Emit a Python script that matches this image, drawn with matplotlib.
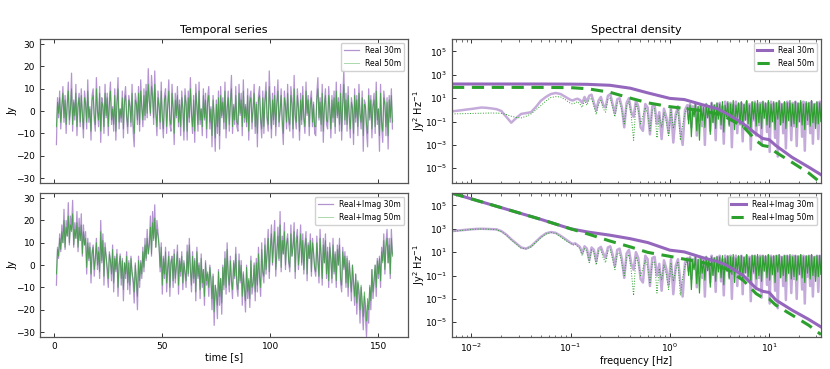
import numpy as np
import matplotlib
matplotlib.use("Agg")
import matplotlib.pyplot as plt
from matplotlib.ticker import NullLocator, LogLocator, NullFormatter

# ---------------- data: temporal series (Jy), two values per second, t = 1 ... 156.5 s ----------------
real30 = [
    -15, 6, -3, 9, -8, 2, 11, -5, 7, -10, 4, 13, -6, 1, 17, -9, 5, -4, 12, -11, 3, 8, -7, 10,
    -2, -12, 9, 4, -8, 14, -5, 2, -13, 7, 10, -4, -9, 15, 0, -7, 11, -14, 6, 3, -10, 12, -3, 8,
    -11, 5, 13, -6, 2, -9, 10, -13, 4, 15, -8, 1, -5, 9, -12, 6, 11, -3, -10, 7, 3, -7, 12, -9,
    -16, 8, 4, -6, 11, -9, 14, 2, -7, 10, -4, 12, -3, 19, 5, -2, 16, 8, -6, 18, -1, -11, 9, 3,
    -8, 13, -4, -12, 7, 10, -10, 3, 14, -6, -9, 12, 1, -15, 8, -3, 11, -7, 5, -11, 9, 2, -13, 10,
    4, -13, 9, -5, 15, -2, -10, 7, -14, 12, 3, -9, 13, -6, 1, -11, 10, -4, 8, -12, 6, 11, -8, 2,
    -16, 7, -4, -18, 5, -10, 9, -17, 11, -3, 6, -8, 13, -12, 2, 9, -9, 5, 16, -10, 3, -6, 11, -7,
    -9, 12, -2, 8, -11, 14, -5, 3, -7, 10, -13, 6, 9, -8, 1, 12, -10, 4, -16, 7, 11, -5, -12, 9,
    -10, 6, 13, -4, -9, 18, 2, -12, 8, -6, 11, -11, 4, 14, -7, 0, 10, -6, -15, 9, 3, -8, 12, -5,
    -9, 11, 5, -12, 16, -3, -8, 10, 2, -13, 8, -6, 11, -4, -10, 13, -2, 7, -11, 5, 9, -7, 4, -10,
    -11, 8, 15, -4, 6, -9, 12, -14, 3, 10, -6, -8, 11, 2, -12, 7, -5, 9, -10, 13, -3, 6, -9, 12,
    -13, 4, 19, -6, 8, -9, 11, -3, -12, 6, 2, -15, 10, -5, 7, -11, 12, -2, -8, 9, -18, 5, 3, -9,
    -16, 10, -4, 7, -12, 3, 8, -10, 13, -6, 1, -18, 12, -7, -14, 9, 4, -11, 6, -17, 7, -5, 10, -8]
real50 = [
    -7, 4, -1, 6, -5, 2, 8, -3, 5, -6, 3, 9, -4, 1, 10, -6, 4, -2, 8, -7, 2, 6, -5, 7,
    -1, -8, 6, 3, -5, 9, -3, 1, -9, 5, 7, -2, -6, 10, 0, -4, 8, -9, 4, 2, -7, 8, -2, 6,
    -7, 3, 9, -4, 1, -6, 7, -9, 3, 10, -5, 1, -3, 6, -8, 4, 7, -2, -7, 5, 2, -5, 8, -6,
    -10, 5, 3, -4, 8, -6, 9, 2, -4, 7, -2, 9, -1, 12, 4, -1, 11, 6, -3, 12, 0, -7, 6, 2,
    -5, 9, -2, -8, 5, 7, -7, 2, 9, -4, -6, 8, 1, -10, 5, -2, 7, -5, 3, -7, 6, 1, -9, 7,
    3, -9, 6, -3, 10, -1, -7, 5, -9, 8, 2, -6, 9, -4, 1, -7, 7, -3, 5, -8, 4, 7, -5, 1,
    -11, 5, -2, -12, 3, -7, 6, -11, 7, -2, 4, -5, 9, -8, 1, 6, -6, 3, 10, -7, 2, -4, 7, -5,
    -6, 8, -1, 5, -7, 9, -3, 2, -5, 7, -9, 4, 6, -5, 1, 8, -7, 3, -10, 5, 7, -3, -8, 6,
    -7, 4, 9, -3, -6, 11, 1, -8, 5, -4, 7, -7, 3, 9, -5, 0, 7, -4, -10, 6, 2, -5, 8, -3,
    -6, 7, 3, -8, 10, -2, -5, 7, 1, -9, 5, -4, 7, -3, -7, 9, -1, 5, -7, 3, 6, -5, 3, -7,
    -7, 5, 10, -3, 4, -6, 8, -9, 2, 7, -4, -5, 7, 1, -8, 5, -3, 6, -7, 9, -2, 4, -6, 8,
    -9, 3, 12, -4, 5, -6, 7, -2, -8, 4, 1, -10, 7, -3, 5, -7, 8, -1, -5, 6, -11, 3, 2, -6,
    -10, 7, -3, 5, -8, 2, 5, -7, 9, -4, 1, -11, 8, -5, -9, 6, 3, -7, 4, -11, 5, -3, 7, -5]
ri30 = [
    -9, 8, 3, 14, 6, 18, 10, 25, 7, 20, 13, 28, 9, 22, 16, 29, 8, 19, 12, 24, 6, 21, 11, 23,
    4, 18, 9, 15, -4, 12, 2, 10, -8, 6, 9, -5, 3, 12, -2, 8, -6, 20, 1, 14, -9, 10, 4, -3,
    -10, 6, 2, -7, 9, -12, 4, -3, 7, -14, 0, 5, -9, 3, -16, 1, -6, 6, -11, 2, -13, 4, -4, -8,
    -17, 1, -8, -20, 4, -10, 2, -6, 8, -3, 12, 2, 16, 5, 10, 22, 4, 24, 12, 27, 8, 20, 15, 9,
    -3, 10, -13, 4, -6, 8, -12, -2, 6, -14, 2, 4, -10, 7, -8, -1, 9, -13, 3, -5, 6, -11, 2, -4,
    -10, 9, -5, 12, -2, -12, 6, -8, 3, -16, 8, -6, 1, -15, 5, -10, -2, -18, 2, -9, -4, -14, 0, -7,
    -20, -4, -27, -9, -14, -24, -2, -18, -6, -22, 0, -11, 6, -13, 10, -5, -12, 4, -8, -15, 2, -6, 8, -10,
    -14, 5, -8, 2, -18, -3, -12, -21, 0, -15, -7, -19, 4, -13, -9, 1, -16, 3, -12, 8, -6, -14, 10, -4,
    -8, 12, -4, 6, 16, -6, 8, 18, 0, 11, 20, -5, 6, 17, 2, 24, -3, 13, 5, 19, -2, 10, 14, 1,
    -3, 18, 4, 9, 19, -6, 12, 16, -2, 7, 18, 0, 14, -4, 9, 15, -7, 10, 3, 14, -5, 12, 6, -2,
    -5, 13, 2, -8, 16, 4, -9, 12, 1, 14, -6, 8, -10, 10, 3, -8, 12, -4, 6, -10, 9, 0, 12, -8,
    -12, 8, -2, 6, -10, 4, -14, 2, -6, -16, 0, -9, -18, -4, -22, -8, -13, -26, -10, -20, -29, -14, -23, -32,
    -18, -26, -10, -20, -2, -15, -8, 0, -14, 3, -6, 4, -10, 8, 2, 14, -4, 10, 16, 1, 12, -6, 16, 5]
ri50 = [
    -4, 7, 4, 12, 7, 15, 10, 20, 8, 17, 13, 22, 10, 18, 15, 23, 9, 16, 12, 19, 8, 17, 11, 18,
    5, 15, 9, 12, -1, 10, 3, 8, -4, 5, 8, -2, 3, 10, 0, 6, -3, 15, 2, 11, -5, 8, 4, -1,
    -6, 5, 2, -4, 7, -8, 3, -2, 5, -10, 0, 4, -6, 2, -11, 1, -4, 4, -8, 1, -9, 3, -3, -6,
    -12, 0, -6, -14, 2, -7, 1, -4, 6, -1, 9, 3, 12, 5, 9, 17, 5, 19, 11, 21, 8, 16, 13, 8,
    -1, 8, -9, 3, -4, 6, -8, -1, 4, -10, 1, 3, -7, 5, -6, 0, 6, -9, 2, -3, 4, -8, 1, -3,
    -7, 6, -4, 9, -2, -9, 4, -6, 2, -12, 6, -5, 0, -11, 3, -8, -2, -14, 1, -7, -3, -10, -1, -6,
    -15, -5, -21, -9, -12, -18, -3, -14, -6, -17, -1, -9, 3, -10, 7, -4, -9, 2, -7, -11, 1, -5, 5, -8,
    -11, 2, -7, 0, -14, -4, -10, -16, -1, -12, -6, -15, 2, -10, -8, 0, -12, 1, -9, 5, -5, -10, 7, -3,
    -5, 9, -2, 5, 12, -3, 7, 14, 1, 9, 15, -2, 5, 13, 3, 18, -1, 11, 5, 15, 0, 9, 12, 2,
    -1, 14, 4, 8, 15, -3, 10, 13, 0, 6, 14, 1, 11, -2, 8, 12, -4, 9, 3, 11, -3, 10, 5, -1,
    -3, 10, 2, -5, 12, 4, -6, 9, 1, 11, -4, 6, -7, 8, 2, -6, 9, -3, 5, -7, 7, 0, 9, -6,
    -9, 6, -1, 4, -8, 3, -10, 1, -5, -12, 0, -7, -14, -4, -17, -7, -11, -20, -9, -16, -23, -12, -18, -25,
    -15, -20, -9, -16, -2, -12, -6, 0, -10, 2, -4, 3, -7, 6, 1, 11, -2, 8, 12, 1, 9, -4, 12, 4]
t_start, t_end = 1.0, 156.5

# ---------------- data: model spectral densities (log10 Jy^2/Hz) ----------------
model_f = [0.0064, 0.01, 0.02, 0.05, 0.1, 0.15, 0.25, 0.4, 0.6, 1.0, 1.4,
           2.1, 3.0, 3.7, 5.5, 7.4, 8.6, 10.0, 11.7, 17.0, 25.0, 33.3]
model_real30 = [2.21, 2.21, 2.21, 2.21, 2.2, 2.18, 2.1, 1.85, 1.45, 0.98, 0.88,
                0.45, 0.1, -0.3, -1.2, -2.06, -2.45, -2.55, -3.06, -4.06, -4.9, -5.55]
model_real50 = [1.92, 1.92, 1.92, 1.92, 1.9, 1.8, 1.5, 1.0, 0.6, 0.27, 0.12,
                -0.07, -0.35, -0.64, -1.44, -2.63, -3.05, -3.15, -3.63, -4.49, -5.4, -6.25]
model_ri30 = [6.05, 5.56, 4.81, 3.81, 3.0, 2.72, 2.45, 2.15, 1.82, 1.17, 1.02,
              0.55, 0.2, -0.1, -1.0, -2.1, -2.35, -2.45, -3.1, -3.96, -4.75, -5.4]
model_ri50 = [6.05, 5.56, 4.81, 3.81, 3.0, 2.55, 1.95, 1.45, 0.98, 0.64, 0.4,
              0.13, -0.2, -0.44, -1.42, -2.55, -2.9, -3.0, -3.54, -4.38, -5.25, -6.05]

# ---------------- data: periodograms (log10 Jy^2/Hz) ----------------
pg_real30 = [
    # 0.0064 - 0.1 Hz
    -0.13, -0.08, -0.03, 0.03, 0.08, 0.14, 0.2, 0.17, 0.12, 0.06, -0.1, -0.6,
    -1.1, -0.7, -0.35, -0.28, -0.2, 0.25, 0.78, 1.1, 1.35, 1.44, 1.35, 1.1,
    # 0.1 - 1.5 Hz
    0.85, 0.8, 0.9, 0.95, 0.85, 0.6, 1.1, 0.7, 1.2, 1.3, 0.6, -0.05, 0.8, 1.1, 0.4, 0.2,
    1.2, 1.35, 0.5, -0.3, 0.9, 1.0, 0.2, -1.5, 0.6, 1.0, -0.2, -0.6, 0.8, 0.3, -1.5, -1.8,
    0.5, 0.2, -2.1, 0.3, 0.4, -1.2, -0.2, -2.5, 0.1, -0.6, -2.0, 0.2, -2.8, -0.4, 0.3, -1.7,
    -3.0, 0.0,
    # 1.5 - 33 Hz
    0.4, -0.8, 0.5, -1.5, 0.3, -0.3, 0.6, -2.2, 0.2, -0.9, 0.5, -1.4, 0.4, -3.0, 0.5, -0.5, 0.3, -1.8, 0.6, -1.0,
    0.4, -2.6, 0.5, -0.4, 0.6, -1.6, 0.3, -2.9, 0.7, -0.7, 0.5, -1.2, 0.6, -3.2, 0.4, -0.6, 0.7, -2.0, 0.5, -1.1,
    0.6, -2.7, 0.4, -0.8, 0.7, -1.5, 0.5, -3.4, 0.6, -0.9, 0.7, -2.2, 0.5, -1.3, 0.6, -3.0, 0.7, -0.7, 0.5, -1.9,
    0.6, -3.6, 0.7, -1.0, 0.5, -2.4, 0.6, -4.0, 0.7, -1.2, 0.5, -2.0, 0.6, -3.3, 0.7, -0.9, 0.5, -2.6, 0.6, -1.4,
    0.7, -3.1, 0.5, -1.0, 0.6, -2.3, 0.7, -3.5, 0.5, -1.2, 0.6, -2.0, 0.7, -2.9, 0.5, -1.1, 0.6, -2.5, 0.7, -0.9]
pg_real50 = [
    -0.35, -0.34, -0.33, -0.32, -0.31, -0.3, -0.29, -0.28, -0.27, -0.28, -0.3, -0.4,
    -0.55, -0.65, -0.69, -0.55, -0.35, 0.0, 0.36, 0.75, 1.05, 1.13, 1.1, 0.85,
    0.55, 0.5, 0.6, 0.7, 0.5, 0.2, 0.8, 0.4, 0.9, 1.0, 0.3, -0.4, 0.5, 0.8, 0.1, -0.2,
    0.9, 1.0, 0.2, -0.6, 0.6, 0.7, -0.1, -1.2, 0.3, 0.7, -0.5, -2.6, 0.5, 0.0, -1.2, -0.5,
    0.2, -0.3, -1.8, 0.0, 0.1, -2.4, -0.5, -1.5, -0.2, -1.0, -2.2, 0.0, -1.6, -0.7, 0.1, -2.6,
    -1.3, -0.3,
    0.2, -1.2, 0.4, -2.3, 0.1, -0.6, 0.5, -1.8, 0.3, -2.6, 0.4, -0.9, 0.2, -1.5, 0.5, -0.7, 0.3, -2.1, 0.6, -1.1,
    0.4, -1.6, 0.6, -0.8, 0.5, -1.3, 0.7, -1.9, 0.4, -0.6, 0.7, -1.4, 0.5, -1.0, 0.8, -1.7, 0.4, -0.7, 0.6, -1.3,
    0.7, -1.5, 0.5, -0.9, 0.8, -1.2, 0.4, -1.8, 0.7, -0.8, 0.6, -1.4, 0.8, -1.1, 0.5, -1.6, 0.7, -0.7, 0.6, -1.3,
    0.8, -1.5, 0.5, -1.0, 0.7, -1.7, 0.6, -0.8, 0.8, -1.3, 0.5, -1.1, 0.7, -1.6, 0.6, -0.9, 0.8, -1.4, 0.5, -1.2,
    0.7, -1.5, 0.6, -1.0, 0.8, -1.3, 0.5, -1.7, 0.7, -0.9, 0.6, -1.4, 0.8, -1.1, 0.5, -1.6, 0.7, -1.2, 0.6, -1.0]
pg_ri30 = [
    2.8, 2.84, 2.88, 2.92, 2.96, 2.99, 3.0, 2.99, 2.97, 2.95, 2.8, 2.5,
    2.1, 1.75, 1.4, 1.3, 1.5, 1.9, 2.3, 2.6, 2.72, 2.65, 2.4, 2.1,
    1.8, 1.7, 1.75, 1.6, 1.45, 0.9, 1.5, 1.3, 0.3, 1.4, 1.2, 0.2, 1.3, 1.45, 0.9, 0.5,
    1.4, 1.5, 0.8, -0.2, 1.2, 1.3, 0.4, -1.2, 0.9, 1.2, 0.0, -0.5, 1.0, 0.5, -1.3, -1.6,
    0.7, 0.4, -1.9, 0.5, 0.6, -1.0, 0.0, -2.3, 0.3, -0.4, -1.8, 0.4, -2.6, -0.2, 0.4, -1.5,
    -2.8, 0.1,
    0.5, -0.6, 0.6, -1.3, 0.4, -0.2, 0.7, -2.0, 0.3, -0.8, 0.6, -1.2, 0.5, -2.8, 0.6, -0.4, 0.4, -1.6, 0.7, -0.9,
    0.5, -2.4, 0.6, -0.3, 0.7, -1.5, 0.4, -2.7, 0.7, -0.6, 0.6, -1.1, 0.7, -3.0, 0.5, -0.5, 0.7, -1.9, 0.6, -1.0,
    0.7, -2.6, 0.5, -0.7, 0.7, -1.4, 0.6, -3.2, 0.7, -0.8, 0.7, -2.1, 0.6, -1.2, 0.7, -2.9, 0.7, -0.6, 0.6, -1.8,
    0.7, -3.4, 0.7, -0.9, 0.6, -2.3, 0.7, -3.8, 0.7, -1.1, 0.6, -1.9, 0.7, -3.1, 0.7, -0.8, 0.6, -2.5, 0.7, -1.3,
    0.7, -3.0, 0.6, -0.9, 0.7, -2.2, 0.7, -3.4, 0.6, -1.1, 0.7, -1.9, 0.7, -2.8, 0.6, -1.0, 0.7, -2.4, 0.7, -0.8]
pg_ri50 = [
    2.78, 2.82, 2.86, 2.9, 2.94, 2.97, 2.98, 2.97, 2.95, 2.92, 2.75, 2.45,
    2.05, 1.7, 1.35, 1.28, 1.45, 1.85, 2.25, 2.55, 2.68, 2.6, 2.3, 2.0,
    1.75, 1.6, 1.7, 1.5, 1.3, 0.7, 1.3, 1.1, 0.1, 1.2, 1.0, -0.1, 1.1, 1.2, 0.5, 0.1,
    1.1, 1.2, 0.4, -0.5, 0.9, 0.9, 0.0, -1.0, 0.5, 0.8, -0.6, -2.7, 0.6, 0.1, -1.0, -0.4,
    0.3, -0.2, -1.7, 0.1, 0.2, -2.5, -0.4, -1.4, -0.1, -0.9, -2.2, 0.1, -1.5, -0.6, 0.2, -2.7,
    -1.2, -0.2,
    0.3, -1.0, 0.5, -2.2, 0.2, -0.5, 0.6, -1.7, 0.4, -2.5, 0.5, -0.8, 0.3, -1.4, 0.6, -0.6, 0.4, -2.0, 0.6, -1.0,
    0.5, -1.5, 0.6, -0.7, 0.6, -1.2, 0.7, -1.8, 0.5, -0.5, 0.7, -1.3, 0.6, -0.9, 0.8, -1.6, 0.5, -0.6, 0.7, -1.2,
    0.7, -1.4, 0.6, -0.8, 0.8, -1.1, 0.5, -1.7, 0.7, -0.7, 0.7, -1.3, 0.8, -1.0, 0.6, -1.5, 0.7, -0.6, 0.7, -1.2,
    0.8, -1.4, 0.6, -0.9, 0.7, -1.6, 0.7, -0.7, 0.8, -1.2, 0.6, -1.0, 0.7, -1.5, 0.7, -0.8, 0.8, -1.3, 0.6, -1.1,
    0.7, -1.4, 0.7, -0.9, 0.8, -1.2, 0.6, -1.6, 0.7, -0.8, 0.7, -1.3, 0.8, -1.0, 0.6, -1.5, 0.7, -1.1, 0.7, -0.9]

# frequency grid of the periodograms (log spaced segments)
pg_f = np.concatenate([np.geomspace(0.0064, 0.1, 24, endpoint=False),
                       np.geomspace(0.1, 1.5, 50, endpoint=False),
                       np.geomspace(1.5, 33.3, 100)])
DENSE_FROM = 74  # index where the dense high-frequency part begins

labels_top = ["Real 30m", "Real 50m"]
labels_bot = ["Real+Imag 30m", "Real+Imag 50m"]

# ---------------- figure ----------------
PURPLE = "#9467bd"
GREEN = "#2ca02c"
SPINE = "#555555"

plt.rcParams.update({
    "font.family": "DejaVu Sans",
    "xtick.labelsize": 6.5, "ytick.labelsize": 6.5,
    "axes.labelsize": 7, "axes.titlesize": 8,
    "legend.fontsize": 5.5,
})

fig = plt.figure(figsize=(8.3, 3.69), dpi=100)
W, H = 830.0, 369.0
def pos(x0, x1, y0, y1):
    return [x0 / W, 1 - y1 / H, (x1 - x0) / W, (y1 - y0) / H]

ax_tl = fig.add_axes(pos(40, 408, 39, 183))
ax_bl = fig.add_axes(pos(40, 408, 193, 337))
ax_tr = fig.add_axes(pos(452, 821, 39, 183))
ax_br = fig.add_axes(pos(452, 821, 193, 337))

def style(ax):
    for s in ax.spines.values():
        s.set_color(SPINE)
        s.set_linewidth(0.9)
    ax.tick_params(which="both", direction="in", top=True, right=False,
                   colors="#333333", labelcolor="black")
    ax.tick_params(which="major", length=3, width=0.7)
    ax.tick_params(which="minor", length=1.8, width=0.5)

# temporal series
for ax, s30, s50, labs in [(ax_tl, real30, real50, labels_top),
                           (ax_bl, ri30, ri50, labels_bot)]:
    t = np.linspace(t_start, t_end, len(s30))
    ax.plot(t, s30, color=PURPLE, lw=0.9, alpha=0.7, label=labs[0])
    ax.plot(t, s50, color=GREEN, lw=0.7, alpha=0.75, label=labs[1])
    ax.set_xlim(-6.6, 163.7)
    ax.set_ylim(-32.2, 32.3)
    ax.set_xticks([0, 50, 100, 150])
    ax.set_yticks([-30, -20, -10, 0, 10, 20, 30])
    ax.set_ylabel("Jy")
    ax.yaxis.set_label_coords(-0.062, 0.5)
    leg = ax.legend(loc="upper right", framealpha=0.9, edgecolor="#cccccc")
    leg.get_lines()[1].set_alpha(0.4)
    style(ax)
ax_tl.tick_params(labelbottom=False)
ax_tl.set_title("Temporal series", pad=4)
ax_bl.set_xlabel("time [s]", labelpad=1)

# spectral densities
for ax, m30, m50, p30, p50, labs in [
        (ax_tr, model_real30, model_real50, pg_real30, pg_real50, labels_top),
        (ax_br, model_ri30, model_ri50, pg_ri30, pg_ri50, labels_bot)]:
    ax.set_xscale("log")
    ax.set_yscale("log")
    p30 = 10.0 ** np.array(p30)
    p50 = 10.0 ** np.array(p50)
    ax.plot(pg_f, p30, color=PURPLE, lw=1.8, alpha=0.55)
    ax.plot(pg_f[:DENSE_FROM + 1], p50[:DENSE_FROM + 1], color=GREEN, lw=0.7, ls=":")
    ax.plot(pg_f[DENSE_FROM:], p50[DENSE_FROM:], color=GREEN, lw=0.85)
    ax.plot(model_f, 10.0 ** np.array(m30), color=PURPLE, lw=2.2, label=labs[0])
    ax.plot(model_f, 10.0 ** np.array(m50), color=GREEN, lw=2.2, ls=(0, (4, 2.5)), label=labs[1])
    ax.set_xlim(0.0064, 33.3)
    ax.set_ylim(5.5e-7, 1.15e6)
    ax.set_yticks([1e-5, 1e-3, 1e-1, 1e1, 1e3, 1e5])
    ax.yaxis.set_minor_locator(NullLocator())
    ax.xaxis.set_minor_locator(LogLocator(base=10, subs=np.arange(2, 10) * 1.0, numticks=20))
    ax.xaxis.set_minor_formatter(NullFormatter())
    ax.set_ylabel("Jy$^2$ Hz$^{-1}$")
    ax.yaxis.set_label_coords(-0.068, 0.5)
    ax.legend(loc="upper right", framealpha=0.9, edgecolor="#cccccc")
    style(ax)
ax_tr.tick_params(labelbottom=False)
ax_tr.set_title("Spectral density", pad=4)
ax_br.set_xlabel("frequency [Hz]", labelpad=1)

fig.savefig("out.png", dpi=100)
